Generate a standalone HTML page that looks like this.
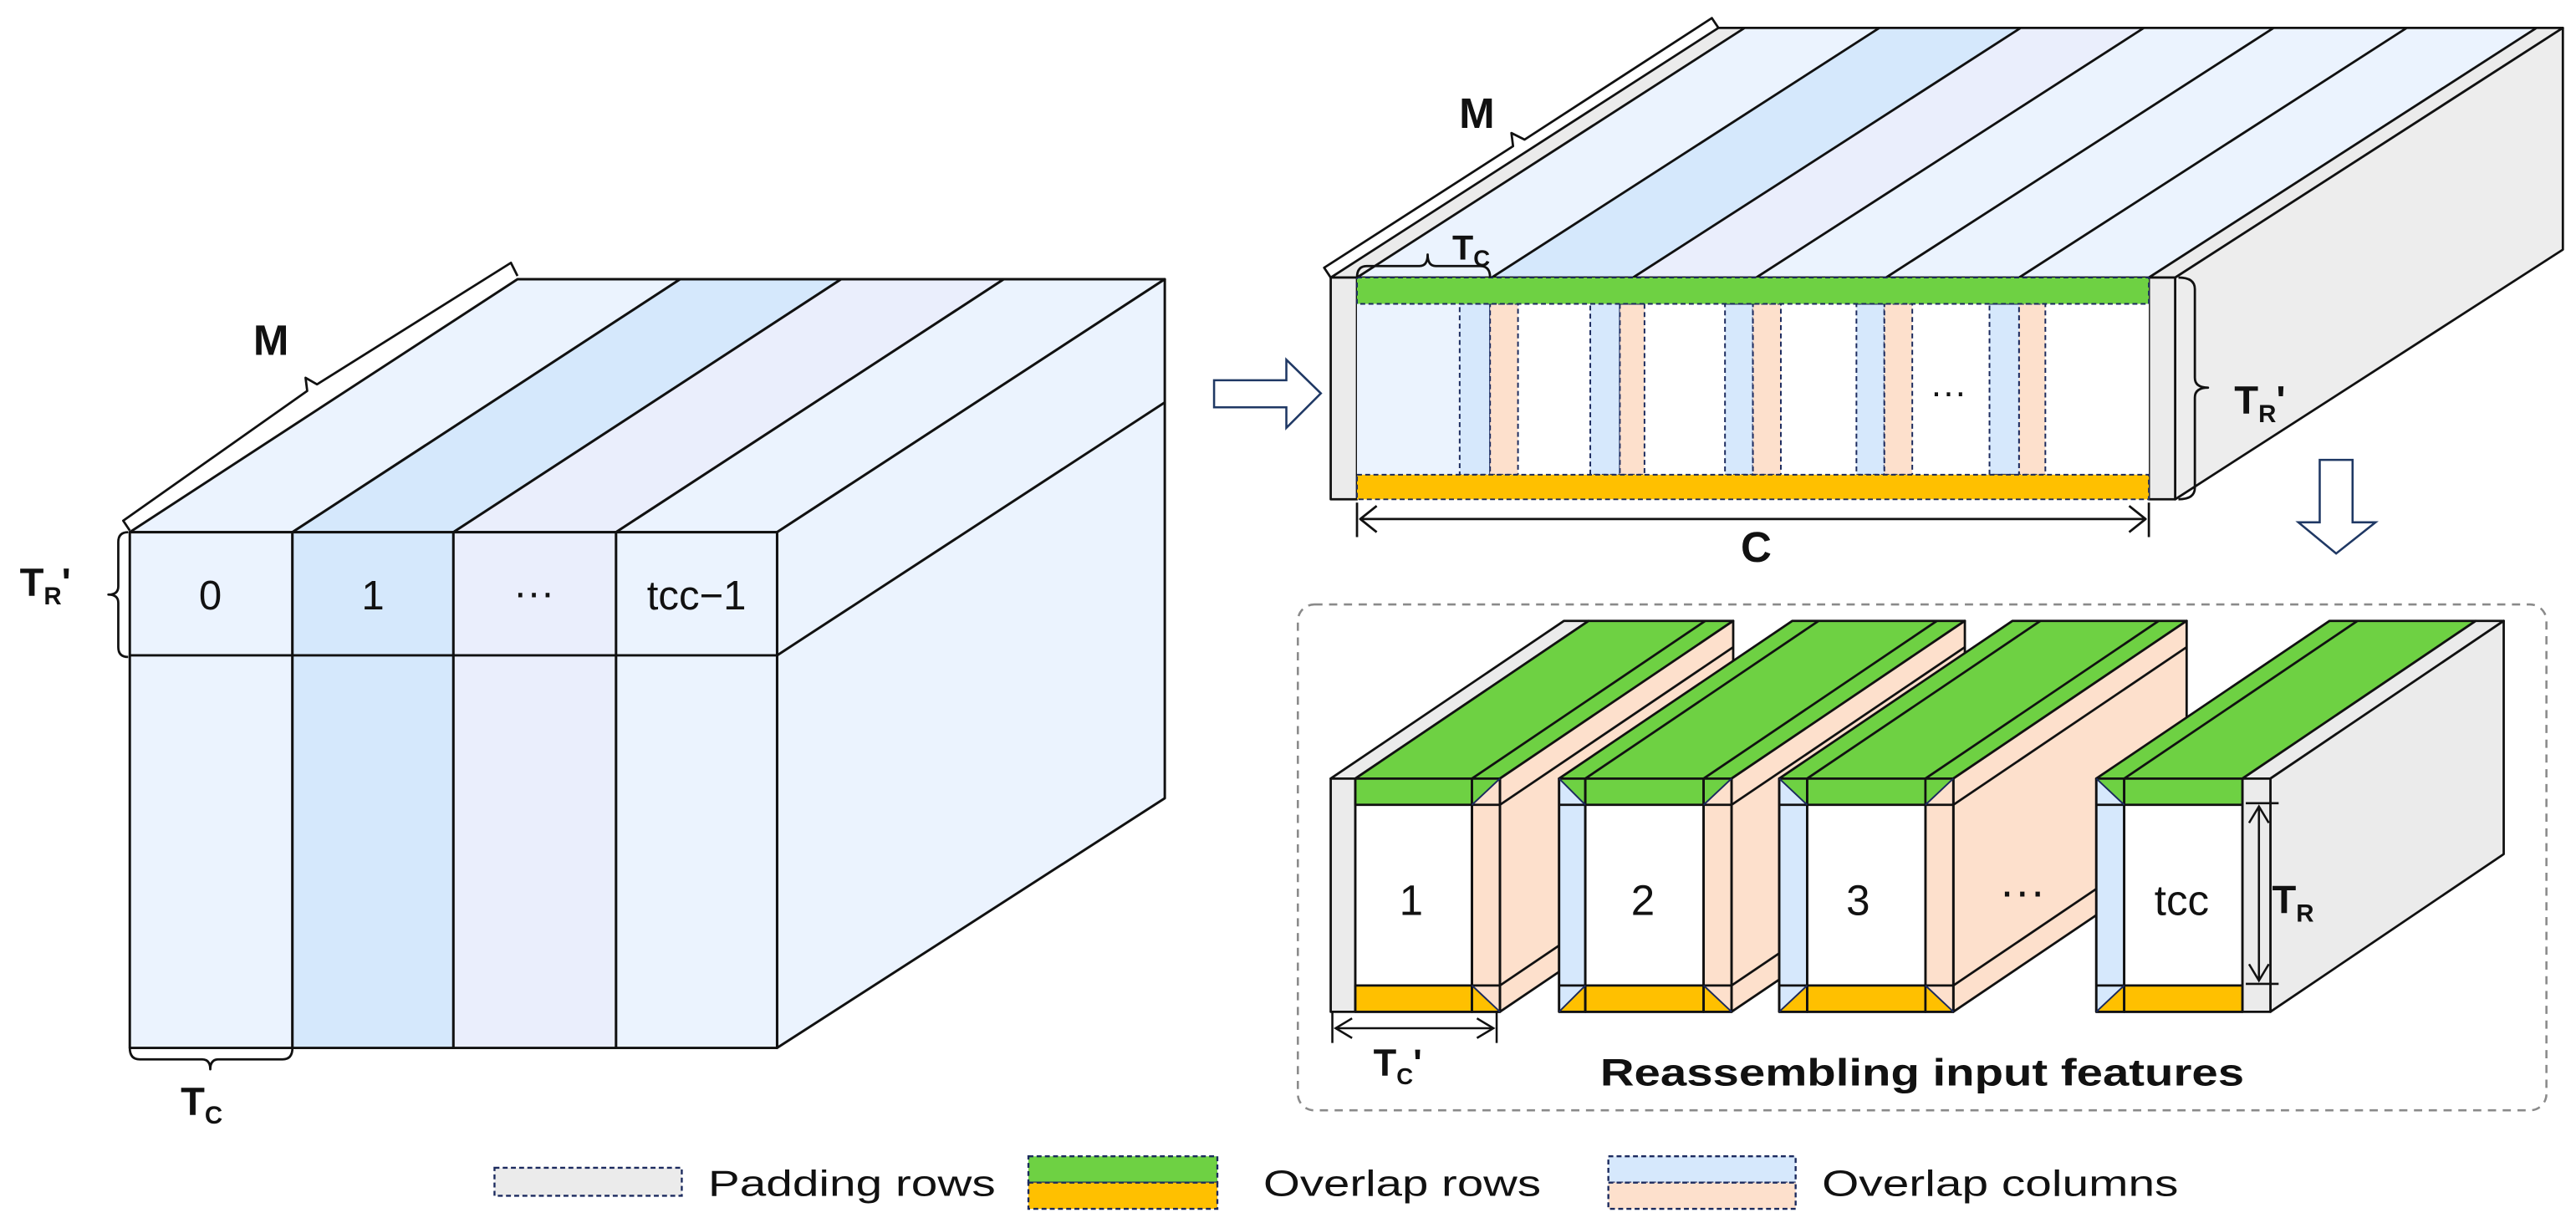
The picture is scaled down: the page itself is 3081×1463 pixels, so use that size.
<!DOCTYPE html>
<html><head><meta charset="utf-8"><style>html,body{margin:0;padding:0;background:#fff}svg{display:block}</style></head>
<body>
<svg width="3081" height="1463" viewBox="0 0 1568 744.6" preserveAspectRatio="none" xmlns="http://www.w3.org/2000/svg" font-family="Liberation Sans, sans-serif">
<g stroke="#111" stroke-width="1.5" stroke-linejoin="round">
<polygon points="79,324 178,324 414,170 315,170" fill="#ebf3fe"/>
<polygon points="178,324 276,324 512,170 414,170" fill="#d5e8fc"/>
<polygon points="276,324 375,324 611,170 512,170" fill="#eaeefc"/>
<polygon points="375,324 473,324 709,170 611,170" fill="#ebf3fe"/>
<polygon points="473,324 709,170 709,486 473,638" fill="#ebf3fe"/>
<line x1="473" y1="399" x2="709" y2="245"/>
<rect x="79" y="324" width="99" height="314" fill="#ebf3fe"/>
<rect x="178" y="324" width="98" height="314" fill="#d5e8fc"/>
<rect x="276" y="324" width="99" height="314" fill="#eaeefc"/>
<rect x="375" y="324" width="98" height="314" fill="#ebf3fe"/>
<line x1="79" y1="399" x2="473" y2="399"/>
</g>
<g fill="none" stroke="#111" stroke-width="1.4" stroke-linejoin="round">
<path d="M79,323 L75,317 L187,238 L186,230 L193,234 L311,160 L315,168"/>
<path d="M78,324 Q72,324 72,330 L72,357 Q72,362 66,362 Q72,362 72,367 L72,394 Q72,400 78,400"/>
<path d="M79,638 Q79,645 85,645 L123,645 Q128,645 128,651 Q128,645 133,645 L172,645 Q178,645 178,638"/>
</g>
<g font-size="25" fill="#111" text-anchor="middle">
<text x="128" y="371">0</text><text x="227" y="371">1</text><text x="325" y="369">···</text><text x="424" y="371">tcc−1</text>
</g>
<g font-weight="bold" fill="#111">
<text x="165" y="216" font-size="26" text-anchor="middle">M</text>
<text x="12" y="363" font-size="24">T<tspan font-size="15" dy="5">R</tspan><tspan dy="-5">'</tspan></text>
<text x="110" y="679" font-size="24">T<tspan font-size="15" dy="5">C</tspan></text>
</g>
<path d="M739,231.5 L783,231.5 L783,219 L804,239.5 L783,260.5 L783,248 L739,248 Z" fill="#fff" stroke="#1f3864" stroke-width="1.3"/>

<g stroke="#111" stroke-width="1.4" stroke-linejoin="round">
<polygon points="810,169 826,169 1062,17 1046,17" fill="#ebebeb"/>
<polygon points="826,169 908,169 1144,17 1062,17" fill="#ebf3fe"/>
<polygon points="908,169 994,169 1230,17 1144,17" fill="#d5e8fc"/>
<polygon points="994,169 1069,169 1305,17 1230,17" fill="#eaeefc"/>
<polygon points="1069,169 1148,169 1384,17 1305,17" fill="#ebf3fe"/>
<polygon points="1148,169 1229,169 1465,17 1384,17" fill="#ebf3fe"/>
<polygon points="1229,169 1308,169 1544,17 1465,17" fill="#ebf3fe"/>
<polygon points="1308,169 1324,169 1560,17 1544,17" fill="#ebebeb"/>
<polygon points="1324,169 1560,17 1560,152 1324,304" fill="#ededed"/>
<rect x="810" y="169" width="16" height="135" fill="#ebebeb"/>
<rect x="1308" y="169" width="16" height="135" fill="#ebebeb"/>
</g>
<rect x="826" y="169" width="482" height="135" fill="#fff"/>
<rect x="826" y="185" width="62" height="104" fill="#ebf3fe"/>
<g stroke="#1b2a5e" stroke-width="1" stroke-dasharray="3 2">
<rect x="888.5" y="185" width="18.5" height="104" fill="#d6e8fc"/><rect x="907" y="185" width="17" height="104" fill="#fde0cc"/>
<rect x="968" y="185" width="18" height="104" fill="#d6e8fc"/><rect x="986" y="185" width="15" height="104" fill="#fde0cc"/>
<rect x="1050" y="185" width="17" height="104" fill="#d6e8fc"/><rect x="1067" y="185" width="17" height="104" fill="#fde0cc"/>
<rect x="1130" y="185" width="17" height="104" fill="#d6e8fc"/><rect x="1147" y="185" width="17" height="104" fill="#fde0cc"/>
<rect x="1211" y="185" width="18" height="104" fill="#d6e8fc"/><rect x="1229" y="185" width="16" height="104" fill="#fde0cc"/>
<rect x="826" y="169" width="482" height="16" fill="#6ed143"/>
<rect x="826" y="289" width="482" height="15" fill="#ffc000"/>
</g>
<text x="1186" y="246" font-size="22" text-anchor="middle" fill="#111">···</text>
<g fill="none" stroke="#111" stroke-width="1.4" stroke-linejoin="round">
<path d="M810,169 L806,163 L921,89 L920,81 L928,85 L1042,11 L1046,17"/>
<path d="M826,169 Q826,162 832,162 L864,162 Q869,162 869,155 Q869,162 874,162 L901,162 Q907,162 907,169"/>
<path d="M1326,169 Q1336,169 1336,176 L1336,230 Q1336,236 1344,236 Q1336,236 1336,242 L1336,297 Q1336,304 1326,304"/>
<line x1="826" y1="306" x2="826" y2="327"/><line x1="1308" y1="306" x2="1308" y2="327"/>
<line x1="828" y1="316" x2="1306" y2="316"/>
<path d="M838,308 L828,316 L838,324 M1296,308 L1306,316 L1296,324"/>
</g>
<g font-weight="bold" fill="#111">
<text x="899" y="78" font-size="26" text-anchor="middle">M</text>
<text x="884" y="158" font-size="21">T<tspan font-size="14" dy="4">C</tspan></text>
<text x="1360" y="252" font-size="24">T<tspan font-size="15" dy="5">R</tspan><tspan dy="-5">'</tspan></text>
<text x="1069" y="342" font-size="26" text-anchor="middle">C</text>
</g>
<path d="M1412,280 L1432,280 L1432,318 L1446,318 L1422,337 L1399,318 L1412,318 Z" fill="#fff" stroke="#1f3864" stroke-width="1.3"/>

<rect x="790" y="368" width="760" height="308" rx="10" fill="none" stroke="#8a8a8a" stroke-width="1.3" stroke-dasharray="5 4"/>

<g stroke="#111" stroke-width="1.4" stroke-linejoin="round">
<polygon points="810,474 825,474 967,378 952,378" fill="#ebebeb"/>
<polygon points="825,474 913,474 1055,378 967,378" fill="#6ed143"/>
<line x1="896" y1="474" x2="1038" y2="378"/>
<polygon points="913,474 1055,378 1055,520 913,616" fill="#fde0cc"/>
<line x1="913" y1="490" x2="1055" y2="394"/><line x1="913" y1="600" x2="1055" y2="504"/>
<rect x="810" y="474" width="15" height="142" fill="#ebebeb"/>
<rect x="825" y="474" width="71" height="142" fill="#fff"/>
<rect x="825" y="474" width="71" height="16" fill="#6ed143"/>
<rect x="825" y="600" width="71" height="16" fill="#ffc000"/>
<rect x="896" y="474" width="17" height="142" fill="#fde0cc"/>
<polygon points="896,474 913,474 896,490" fill="#6ed143" stroke="none"/>
<polygon points="896,600 896,616 913,616" fill="#ffc000" stroke="none"/>
<path d="M896,474 L913,474 L913,616 L896,616 Z M896,490 L913,490 M896,600 L913,600" fill="none"/>
<polygon points="949,474 1054,474 1196,378 1091,378" fill="#6ed143"/>
<line x1="965" y1="474" x2="1107" y2="378"/><line x1="1037" y1="474" x2="1179" y2="378"/>
<polygon points="1054,474 1196,378 1196,520 1054,616" fill="#fde0cc"/>
<line x1="1054" y1="490" x2="1196" y2="394"/><line x1="1054" y1="600" x2="1196" y2="504"/>
<rect x="949" y="474" width="16" height="142" fill="#d6e8fc"/>
<polygon points="949,474 965,474 965,490" fill="#6ed143" stroke="none"/>
<polygon points="949,616 965,616 965,600" fill="#ffc000" stroke="none"/>
<rect x="965" y="474" width="72" height="142" fill="#fff"/>
<rect x="965" y="474" width="72" height="16" fill="#6ed143"/>
<rect x="965" y="600" width="72" height="16" fill="#ffc000"/>
<rect x="1037" y="474" width="17" height="142" fill="#fde0cc"/>
<polygon points="1037,474 1054,474 1037,490" fill="#6ed143" stroke="none"/>
<polygon points="1037,600 1037,616 1054,616" fill="#ffc000" stroke="none"/>
<path d="M949,474 L965,474 L965,616 L949,616 Z M949,490 L965,490 M949,600 L965,600 M1037,474 L1054,474 L1054,616 L1037,616 Z M1037,490 L1054,490 M1037,600 L1054,600" fill="none"/>
<polygon points="1083,474 1189,474 1331,378 1225,378" fill="#6ed143"/>
<line x1="1100" y1="474" x2="1242" y2="378"/><line x1="1172" y1="474" x2="1314" y2="378"/>
<polygon points="1189,474 1331,378 1331,520 1189,616" fill="#fde0cc"/>
<line x1="1189" y1="490" x2="1331" y2="394"/><line x1="1189" y1="600" x2="1331" y2="504"/>
<rect x="1083" y="474" width="17" height="142" fill="#d6e8fc"/>
<polygon points="1083,474 1100,474 1100,490" fill="#6ed143" stroke="none"/>
<polygon points="1083,616 1100,616 1100,600" fill="#ffc000" stroke="none"/>
<rect x="1100" y="474" width="72" height="142" fill="#fff"/>
<rect x="1100" y="474" width="72" height="16" fill="#6ed143"/>
<rect x="1100" y="600" width="72" height="16" fill="#ffc000"/>
<rect x="1172" y="474" width="17" height="142" fill="#fde0cc"/>
<polygon points="1172,474 1189,474 1172,490" fill="#6ed143" stroke="none"/>
<polygon points="1172,600 1172,616 1189,616" fill="#ffc000" stroke="none"/>
<path d="M1083,474 L1100,474 L1100,616 L1083,616 Z M1083,490 L1100,490 M1083,600 L1100,600 M1172,474 L1189,474 L1189,616 L1172,616 Z M1172,490 L1189,490 M1172,600 L1189,600" fill="none"/>
<polygon points="1276,474 1365,474 1507,378 1418,378" fill="#6ed143"/>
<polygon points="1365,474 1382,474 1524,378 1507,378" fill="#ebebeb"/>
<line x1="1293" y1="474" x2="1435" y2="378"/>
<polygon points="1382,474 1524,378 1524,520 1382,616" fill="#ebebeb"/>
<rect x="1276" y="474" width="17" height="142" fill="#d6e8fc"/>
<polygon points="1276,474 1293,474 1293,490" fill="#6ed143" stroke="none"/>
<polygon points="1276,616 1293,616 1293,600" fill="#ffc000" stroke="none"/>
<rect x="1293" y="474" width="72" height="142" fill="#fff"/>
<rect x="1293" y="474" width="72" height="16" fill="#6ed143"/>
<rect x="1293" y="600" width="72" height="16" fill="#ffc000"/>
<rect x="1365" y="474" width="17" height="142" fill="#ebebeb"/>
<path d="M1276,474 L1293,474 L1293,616 L1276,616 Z M1276,490 L1293,490 M1276,600 L1293,600" fill="none"/>
</g>
<g stroke="#1b2a5e" stroke-width="1" fill="none">
<path d="M896,490 L913,474 M896,600 L913,616 M949,474 L965,490 M949,616 L965,600 M1037,490 L1054,474 M1037,600 L1054,616 M1083,474 L1100,490 M1083,616 L1100,600 M1172,490 L1189,474 M1172,600 L1189,616 M1276,474 L1293,490 M1276,616 L1293,600"/>
</g>
<g font-size="26" fill="#111" text-anchor="middle">
<text x="859" y="557">1</text><text x="1000" y="557">2</text><text x="1131" y="557">3</text><text x="1328" y="557">tcc</text>
<text x="1231" y="552" font-size="28">···</text>
</g>
<g fill="none" stroke="#111" stroke-width="1.3">
<line x1="1367" y1="489" x2="1387" y2="489"/><line x1="1367" y1="599" x2="1387" y2="599"/>
<line x1="1375" y1="491" x2="1375" y2="597"/>
<path d="M1369,501 L1375,491 L1381,501 M1369,587 L1375,597 L1381,587"/>
<line x1="811" y1="616" x2="811" y2="635"/><line x1="911" y1="616" x2="911" y2="635"/>
<line x1="813" y1="626" x2="909" y2="626"/>
<path d="M823,620 L813,626 L823,632 M899,620 L909,626 L899,632"/>
</g>
<g font-weight="bold" fill="#111">
<text x="1383" y="556" font-size="24">T<tspan font-size="15" dy="5">R</tspan></text>
<text x="836" y="655" font-size="23">T<tspan font-size="14" dy="5">C</tspan><tspan dy="-5">'</tspan></text>
<text x="974" y="661" font-size="23" textLength="392" lengthAdjust="spacingAndGlyphs">Reassembling input features</text>
</g>

<g stroke="#1b2a5e" stroke-width="1.2" stroke-dasharray="3 2">
<rect x="301" y="711" width="114" height="17" fill="#ebebeb"/>
<rect x="626" y="704" width="115" height="16" fill="#6ed143"/>
<rect x="626" y="720" width="115" height="16" fill="#ffc000"/>
<rect x="979" y="704" width="114" height="16" fill="#d6e8fc"/>
<rect x="979" y="720" width="114" height="16" fill="#fde0cc"/>
</g>
<g font-size="22" fill="#111">
<text x="431" y="728" textLength="175" lengthAdjust="spacingAndGlyphs">Padding rows</text>
<text x="769" y="728" textLength="169" lengthAdjust="spacingAndGlyphs">Overlap rows</text>
<text x="1109" y="728" textLength="217" lengthAdjust="spacingAndGlyphs">Overlap columns</text>
</g>
</svg>
</body></html>
